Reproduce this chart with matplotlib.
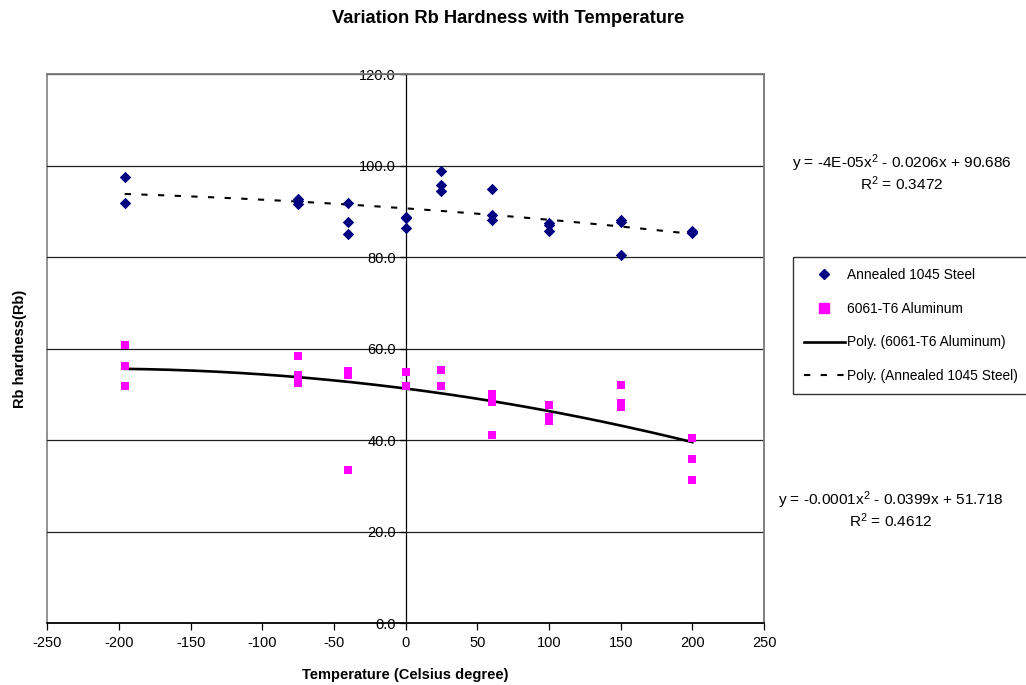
import numpy as np
import matplotlib
matplotlib.use("Agg")
import matplotlib.pyplot as plt
from matplotlib.lines import Line2D
from matplotlib.patches import Rectangle
from matplotlib.ticker import FormatStrFormatter

plt.rcParams['font.family'] = ['Liberation Sans', 'DejaVu Sans']
plt.rcParams['mathtext.fontset'] = 'custom'
plt.rcParams['mathtext.rm'] = 'Liberation Sans'
plt.rcParams['mathtext.default'] = 'regular'
plt.rcParams['axes.unicode_minus'] = False

title = "Variation Rb Hardness with Temperature"
xlabel = "Temperature (Celsius degree)"
ylabel = "Rb hardness(Rb)"

steel_label = "Annealed 1045 Steel"
alum_label = "6061-T6 Aluminum"

steel_temp = [-196, -196, -75, -75, -75, -40, -40, -40, 0, 0, 0,
              25, 25, 25, 60, 60, 60, 100, 100, 100, 150, 150, 150,
              200, 200, 200]
steel_rb = [97.6, 91.9, 92.7, 92.2, 91.6, 91.9, 87.8, 85.1, 88.9, 88.6, 86.5,
            98.9, 95.7, 94.6, 94.9, 89.2, 88.1, 87.4, 87.0, 85.8, 88.1, 87.7, 80.5,
            85.8, 85.3, 85.5]

alum_temp = [-196, -196, -196, -75, -75, -75, -40, -40, -40, 0, 0,
             25, 25, 60, 60, 60, 100, 100, 100, 150, 150, 150,
             200, 200, 200]
alum_rb = [60.9, 56.2, 51.8, 58.4, 54.3, 52.6, 55.2, 54.3, 33.4, 54.9, 51.8,
           55.4, 51.9, 50.1, 48.4, 41.1, 47.7, 45.2, 44.2, 52.0, 48.2, 47.2,
           40.6, 36.0, 31.3]

steel_eq = "y = -4E-05x$^2$ - 0.0206x + 90.686"
steel_r2 = "R$^2$ = 0.3472"
alum_eq = "y = -0.0001x$^2$ - 0.0399x + 51.718"
alum_r2 = "R$^2$ = 0.4612"

xticks = [-250, -200, -150, -100, -50, 0, 50, 100, 150, 200, 250]
yticks = [0, 20, 40, 60, 80, 100, 120]

fig = plt.figure(figsize=(10.26, 6.85), dpi=100)
ax = fig.add_axes([47.3/1026, 1-623.3/685, (764-47.3)/1026, (623.3-74.3)/685])
ax.set_xlim(-250, 250)
ax.set_ylim(0, 120)

# gridlines
for yv in yticks[1:]:
    ax.axhline(yv, color='#202020', lw=0.9, zorder=1)

# trend lines (2nd order polynomial fits)
st_c = np.polyfit(steel_temp, steel_rb, 2)
al_c = np.polyfit(alum_temp, alum_rb, 2)
xs = np.linspace(min(steel_temp), max(steel_temp), 200)
ax.plot(xs, np.polyval(al_c, xs), color='black', lw=1.9, zorder=3)
ax.plot(xs, np.polyval(st_c, xs), color='black', lw=1.5, dashes=(3, 5), zorder=3)

ax.scatter(steel_temp, steel_rb, marker='D', s=34, color='#000080', zorder=4, linewidths=0)
ax.scatter(alum_temp, alum_rb, marker='s', s=40, color='#FF00FF', zorder=4, linewidths=0)

# axes styling
ax.spines['left'].set_position(('data', 0))
ax.spines['left'].set_color('black')
ax.spines['left'].set_linewidth(0.9)
ax.spines['bottom'].set_color('black')
ax.spines['bottom'].set_linewidth(1.2)
for s in ['top', 'right']:
    ax.spines[s].set_color('#808080')
    ax.spines[s].set_linewidth(1.2)
ax.add_patch(Rectangle((0, 0), 1, 1, transform=ax.transAxes, fill=False,
                       edgecolor='#808080', lw=1.2, zorder=0, clip_on=False))

ax.set_xticks(xticks)
ax.set_yticks(yticks)
ax.yaxis.set_major_formatter(FormatStrFormatter('%.1f'))
ax.tick_params(axis='x', direction='out', length=5, width=0.9, labelsize=10.5, pad=4)
ax.tick_params(axis='y', direction='out', length=4, width=0.9, labelsize=10.5, pad=3)

fig.suptitle(title, x=508/1026, y=1-18.5/685, va='center', fontsize=13.2, fontweight='bold')
ax.set_xlabel(xlabel, fontsize=10.5, fontweight='bold', labelpad=13)
ax.set_ylabel(ylabel, fontsize=10.5, fontweight='bold')
ax.yaxis.set_label_coords(-0.028, 0.5)

# equations
fig.text(902/1026, 1-163/685, steel_eq, ha='center', va='center', fontsize=11.1)
fig.text(902/1026, 1-184/685, steel_r2, ha='center', va='center', fontsize=11.1)
fig.text(891/1026, 1-500/685, alum_eq, ha='center', va='center', fontsize=11.1)
fig.text(891/1026, 1-521/685, alum_r2, ha='center', va='center', fontsize=11.1)

handles = [
    Line2D([], [], marker='D', color='#000080', ls='none', markersize=5.5),
    Line2D([], [], marker='s', color='#FF00FF', ls='none', markersize=6.5),
    Line2D([], [], color='black', lw=1.9),
    Line2D([], [], color='black', lw=1.5, dashes=(3, 5)),
]
labels = [steel_label, alum_label, "Poly. (" + alum_label + ")", "Poly. (" + steel_label + ")"]
leg = fig.legend(handles, labels, loc='upper left', bbox_to_anchor=(793/1026, 1-257/685),
                 fontsize=9.9, frameon=True, fancybox=False, handlelength=3.0,
                 handletextpad=0.15, labelspacing=1.44, borderpad=0.78, borderaxespad=0)
leg.get_frame().set_edgecolor('black')
leg.get_frame().set_linewidth(1.0)

fig.savefig("out.png", dpi=100)
